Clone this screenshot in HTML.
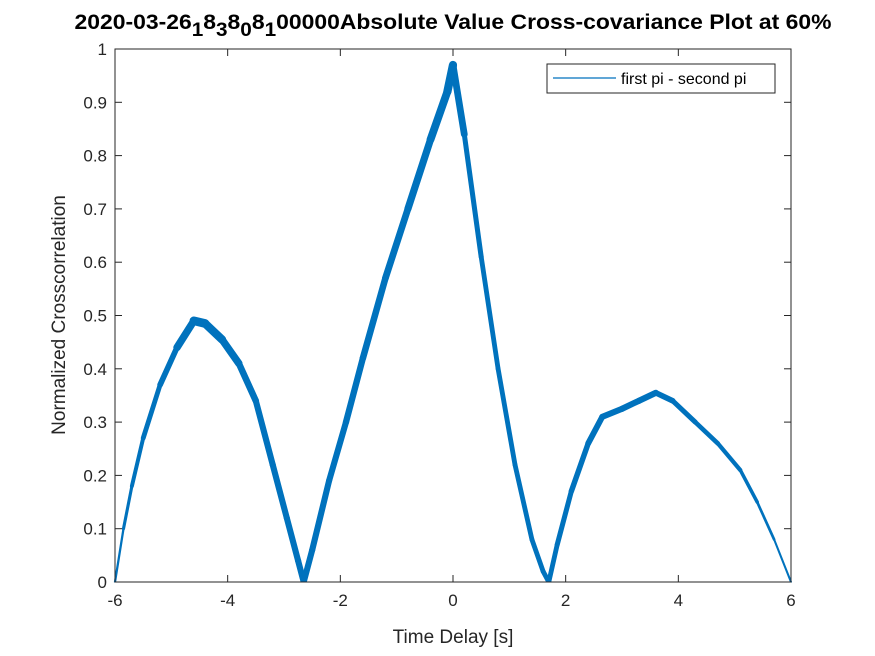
<!DOCTYPE html>
<html><head><meta charset="utf-8"><style>
body{margin:0;background:#fff;}
svg{display:block;font-family:"Liberation Sans",Arial,sans-serif;}
</style></head><body>
<svg id="chart" width="875" height="656" viewBox="0 0 875 656">
<rect x="0" y="0" width="875" height="656" fill="#fff"/>
<text x="453" y="29" text-anchor="middle" font-size="21" font-weight="bold" fill="#000" textLength="757" lengthAdjust="spacingAndGlyphs">2020-03-26<tspan dy="7" font-size="19">1</tspan><tspan dy="-7">8</tspan><tspan dy="7" font-size="19">3</tspan><tspan dy="-7">8</tspan><tspan dy="7" font-size="19">0</tspan><tspan dy="-7">8</tspan><tspan dy="7" font-size="19">1</tspan><tspan dy="-7">00000Absolute Value Cross-covariance Plot at 60%</tspan></text>
<g id="plot"></g>
<g id="axes"></g>
<text x="453" y="643" text-anchor="middle" font-size="19" fill="#262626">Time Delay [s]</text>
<text transform="translate(65,315) rotate(-90)" text-anchor="middle" font-size="19" fill="#262626">Normalized Crosscorrelation</text>
<g>
<rect x="547" y="64" width="228" height="29" fill="#fff" stroke="#262626" stroke-width="1"/>
<line x1="553" y1="78" x2="616" y2="78" stroke="#0072BD" stroke-width="1.2"/>
<text x="621" y="84" font-size="16" fill="#000">first pi - second pi</text>
</g>
</svg>
<script>
const xVals=[-6,-5.85,-5.7,-5.5,-5.2,-4.9,-4.6,-4.4,-4.1,-3.8,-3.5,-3.2,-2.95,-2.75,-2.65,-2.5,-2.2,-1.9,-1.6,-1.2,-0.8,-0.4,-0.1,0,0.2,0.5,0.8,1.1,1.4,1.6,1.7,1.85,2.1,2.4,2.65,3.0,3.3,3.6,3.9,4.3,4.7,5.1,5.4,5.7,6];
const yVals=[0,0.1,0.18,0.27,0.37,0.44,0.49,0.485,0.455,0.41,0.34,0.22,0.12,0.04,0.0,0.06,0.19,0.3,0.42,0.57,0.7,0.83,0.92,0.97,0.84,0.61,0.4,0.22,0.08,0.02,0.0,0.07,0.17,0.26,0.31,0.325,0.34,0.355,0.34,0.3,0.26,0.21,0.15,0.08,0];
const bandVals=[0.002,0.004,0.006,0.008,0.01,0.012,0.018,0.018,0.016,0.014,0.012,0.012,0.012,0.012,0.012,0.012,0.012,0.012,0.013,0.013,0.014,0.015,0.017,0.017,0.01,0.009,0.009,0.009,0.009,0.009,0.009,0.009,0.01,0.011,0.012,0.012,0.012,0.012,0.01,0.009,0.008,0.007,0.005,0.003,0.002];
const xTicks=[-6,-4,-2,0,2,4,6];
const yTicks=[0,0.1,0.2,0.3,0.4,0.5,0.6,0.7,0.8,0.9,1];
const L=115,R=791,T=49,B=582;
const sx=v=>L+(v+6)/12*(R-L);
const sy=v=>B-v*(B-T);
const NS='http://www.w3.org/2000/svg';
const plot=document.getElementById('plot');
const series=document.createElementNS(NS,'g');


plot.appendChild(series);
for(let i=0;i<xVals.length-1;i++){
  const s=document.createElementNS(NS,'line');
  s.setAttribute('x1',sx(xVals[i]).toFixed(1));
  s.setAttribute('y1',sy(yVals[i]).toFixed(1));
  s.setAttribute('x2',sx(xVals[i+1]).toFixed(1));
  s.setAttribute('y2',sy(yVals[i+1]).toFixed(1));
  const w=1+(bandVals[i]+bandVals[i+1])/2*(B-T)*0.8;
  s.setAttribute('stroke','#0072BD');
  s.setAttribute('stroke-width',w.toFixed(2));
  s.setAttribute('stroke-linecap','round');
  
  
  series.appendChild(s);
}
const clip=document.createElementNS(NS,'rect');
const axes=document.getElementById('axes');
// white mask below x-axis to clip round caps
const m=document.createElementNS(NS,'rect');
m.setAttribute('x',L-10);m.setAttribute('y',B+0.5);m.setAttribute('width',R-L+20);m.setAttribute('height',8);m.setAttribute('fill','#fff');


axes.appendChild(m);
const box=document.createElementNS(NS,'rect');
box.setAttribute('x',L);box.setAttribute('y',T);box.setAttribute('width',R-L);box.setAttribute('height',B-T);
box.setAttribute('fill','none');box.setAttribute('stroke','#262626');box.setAttribute('stroke-width','1');


axes.appendChild(box);
xTicks.forEach(t=>{
  const x=sx(t);
  [[B,B-7],[T,T+7]].forEach(p=>{
    const l=document.createElementNS(NS,'line');
    l.setAttribute('x1',x);l.setAttribute('x2',x);l.setAttribute('y1',p[0]);l.setAttribute('y2',p[1]);
    l.setAttribute('stroke','#262626');
    
    
    axes.appendChild(l);
  });
  const tx=document.createElementNS(NS,'text');
  tx.setAttribute('x',x);tx.setAttribute('y',B+24);tx.setAttribute('text-anchor','middle');
  tx.setAttribute('font-size','17');tx.setAttribute('fill','#262626');
  tx.textContent=String(t);
  
  
  axes.appendChild(tx);
});
yTicks.forEach(t=>{
  const y=sy(t);
  [[L,L+7],[R,R-7]].forEach(p=>{
    const l=document.createElementNS(NS,'line');
    l.setAttribute('y1',y);l.setAttribute('y2',y);l.setAttribute('x1',p[0]);l.setAttribute('x2',p[1]);
    l.setAttribute('stroke','#262626');
    
    
    axes.appendChild(l);
  });
  const tx=document.createElementNS(NS,'text');
  tx.setAttribute('x',L-8);tx.setAttribute('y',y+6);tx.setAttribute('text-anchor','end');
  tx.setAttribute('font-size','17');tx.setAttribute('fill','#262626');
  tx.textContent=String(t);
  
  
  axes.appendChild(tx);
});
</script>
</body></html>
